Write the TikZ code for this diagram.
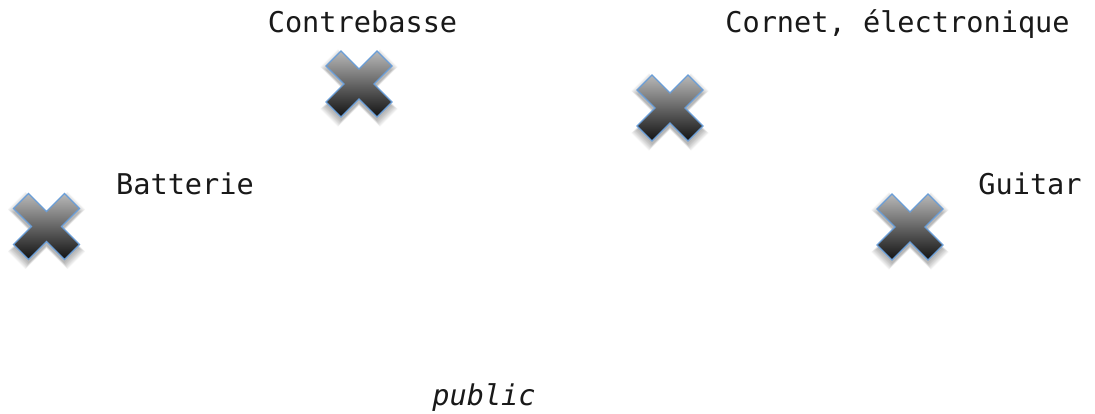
\documentclass[tikz,border=0pt]{standalone}
\usepackage{fontspec}
\setmonofont{DejaVu Sans Mono}
\begin{document}
\begin{tikzpicture}[x=1pt,y=-1pt,
  lbl/.style={font=\fontsize{28.6}{30}\selectfont\ttfamily, inner sep=0pt, anchor=base, text=black!90},
  xshape/.pic={
    \foreach \k in {1,...,7}{
      \fill[black, opacity=0.045, shift={(0,4)}, scale=0.96+\k*0.03]
        (0,-15) -- (18,-33) -- (33,-18) -- (15,0) -- (33,18) -- (18,33) -- (0,15)
        -- (-18,33) -- (-33,18) -- (-15,0) -- (-33,-18) -- (-18,-33) -- cycle;
    }
    \path[draw=xblue, line width=1.3pt, line join=miter, top color=xtop, bottom color=xbot]
        (0,-15) -- (18,-33) -- (33,-18) -- (15,0) -- (33,18) -- (18,33) -- (0,15)
        -- (-18,33) -- (-33,18) -- (-15,0) -- (-33,-18) -- (-18,-33) -- cycle;
  }]
\definecolor{xblue}{HTML}{6A9ED8}
\definecolor{xtop}{HTML}{B8B8B8}
\definecolor{xbot}{HTML}{121212}
\useasboundingbox[fill=white] (0,0) rectangle (1095,414);

\node[lbl] (contrebasse) at (362.5,33) {Contrebasse};
\node[lbl] (cornet) at (897.5,33) {Cornet, électronique};
\node[lbl] (batterie) at (185,195) {Batterie};
\node[lbl] (guitar) at (1030,195) {Guitar};
\node[lbl, font=\fontsize{28.6}{30}\selectfont\ttfamily\itshape] (public) at (484,405) {public};

\pic (xcontrebasse) at (359,84) {xshape};
\pic (xcornet) at (670,108) {xshape};
\pic (xbatterie) at (46.5,226.5) {xshape};
\pic (xguitar) at (910,227) {xshape};
\end{tikzpicture}
\end{document}
